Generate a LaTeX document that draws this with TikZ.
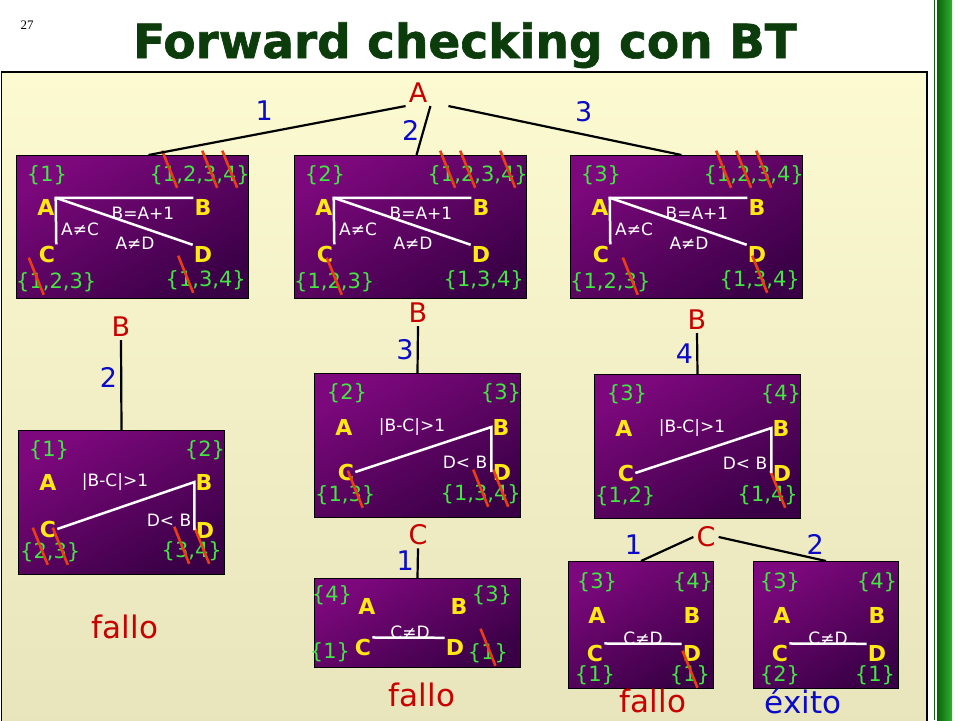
\documentclass[tikz,border=0pt]{standalone}
\usepackage{fontspec}
\usepackage{graphicx}
\setmainfont{DejaVu Sans}
\newfontfamily\numfont{Liberation Serif}
\newfontfamily\titfont{DejaVu Sans}[BoldFeatures={FakeBold=1.3}]
\definecolor{fondoA}{RGB}{252,250,208}
\definecolor{fondoB}{RGB}{232,228,188}
\definecolor{moradoA}{RGB}{125,8,125}
\definecolor{moradoB}{RGB}{58,0,70}
\definecolor{verdeDom}{RGB}{65,230,65}
\definecolor{amarillo}{RGB}{255,232,20}
\definecolor{rojoEt}{RGB}{200,0,0}
\definecolor{azulEt}{RGB}{10,10,200}
\definecolor{tacha}{RGB}{235,60,20}
\definecolor{verdeTit}{RGB}{12,60,12}
\definecolor{barraA}{RGB}{10,100,10}
\definecolor{barraB}{RGB}{50,175,50}
\newcommand\tc[1]{\ooalign{#1\cr\hidewidth\smash{\raisebox{-7pt}{\rotatebox{22}{\color{tacha}\rule{2.6pt}{40pt}}}}\hidewidth\cr}}
\begin{document}
\begin{tikzpicture}[x=1pt,y=-1pt,
  caja/.style={draw=black,line width=1pt,top color=moradoA,bottom color=moradoB,shading angle=30,inner sep=0pt,anchor=north west},
  letra/.style={text=amarillo,font=\bfseries\fontsize{22}{24}\selectfont,inner sep=1pt},
  dom/.style={text=verdeDom,font=\fontsize{21}{23}\selectfont,inner sep=0pt},
  restr/.style={text=white,font=\fontsize{17}{19}\selectfont,inner sep=0pt},
  enlace/.style={draw=white,line width=2.5pt},
  var/.style={text=rojoEt,font=\fontsize{27}{29}\selectfont,inner sep=3pt},
  val/.style={text=azulEt,font=\fontsize{27}{29}\selectfont,inner sep=3pt},
  arista/.style={line width=2.2pt},
  fin/.style={font=\fontsize{31}{33}\selectfont,inner sep=0pt}]
\useasboundingbox (0,0) rectangle (960,720);
\shade[top color=fondoA,bottom color=fondoB,draw=black,line width=1.2pt] (1.5,72) rectangle (927,730);
\draw[barraA,line width=1pt] (934,0) -- (934,720);
\shade[left color=barraA,right color=barraB] (937,0) rectangle (952,720);
\node[font=\numfont\fontsize{13}{14}\selectfont] (pag) at (27,25) {27};
\node[text=verdeTit,font=\titfont\bfseries\fontsize{47}{50}\selectfont,anchor=base] (tit) at (465,58) {Forward checking con BT};

% primer nivel
\node[caja,minimum width=232pt,minimum height=143pt] (k1) at (16,155) {};
\begin{scope}[shift={(k1.north west)}]
  \node[dom] (k1da) at (31,20) {\{1\}};
  \node[dom,anchor=east] (k1db) at (234,20) {\{\tc{1},2,\tc{3},\tc{4}\}};
  \node[letra] (k1a) at (30,52) {A};
  \node[letra] (k1b) at (187,52) {B};
  \node[letra] (k1c) at (31,99) {C};
  \node[letra] (k1d) at (187,99) {D};
  \node[dom,anchor=west] (k1dc) at (0,127) {\{\tc{1},2,3\}};
  \node[dom,anchor=east] (k1dd) at (230,125) {\{\tc{1},3,4\}};
  \draw[enlace] (k1b.north west) -- (k1a.north east) -- (k1c.north east);
  \draw[enlace] (k1a.north east) -- (k1d.north west);
  \node[restr] (k1r1) at (127,58) {B=A+1};
  \node[restr] (k1r2) at (64,74) {A≠C};
  \node[restr] (k1r3) at (119,88) {A≠D};
\end{scope}
\node[caja,minimum width=232pt,minimum height=143pt] (k2) at (294,155) {};
\begin{scope}[shift={(k2.north west)}]
  \node[dom] (k2da) at (31,20) {\{2\}};
  \node[dom,anchor=east] (k2db) at (234,20) {\{\tc{1},\tc{2},3,\tc{4}\}};
  \node[letra] (k2a) at (30,52) {A};
  \node[letra] (k2b) at (187,52) {B};
  \node[letra] (k2c) at (31,99) {C};
  \node[letra] (k2d) at (187,99) {D};
  \node[dom,anchor=west] (k2dc) at (0,127) {\{1,\tc{2},3\}};
  \node[dom,anchor=east] (k2dd) at (230,125) {\{1,3,4\}};
  \draw[enlace] (k2b.north west) -- (k2a.north east) -- (k2c.north east);
  \draw[enlace] (k2a.north east) -- (k2d.north west);
  \node[restr] (k2r1) at (127,58) {B=A+1};
  \node[restr] (k2r2) at (64,74) {A≠C};
  \node[restr] (k2r3) at (119,88) {A≠D};
\end{scope}
\node[caja,minimum width=232pt,minimum height=143pt] (k3) at (570,155) {};
\begin{scope}[shift={(k3.north west)}]
  \node[dom] (k3da) at (31,20) {\{3\}};
  \node[dom,anchor=east] (k3db) at (234,20) {\{\tc{1},\tc{2},\tc{3},4\}};
  \node[letra] (k3a) at (30,52) {A};
  \node[letra] (k3b) at (187,52) {B};
  \node[letra] (k3c) at (31,99) {C};
  \node[letra] (k3d) at (187,99) {D};
  \node[dom,anchor=west] (k3dc) at (0,127) {\{1,2,\tc{3}\}};
  \node[dom,anchor=east] (k3dd) at (230,125) {\{1,\tc{3},4\}};
  \draw[enlace] (k3b.north west) -- (k3a.north east) -- (k3c.north east);
  \draw[enlace] (k3a.north east) -- (k3d.north west);
  \node[restr] (k3r1) at (127,58) {B=A+1};
  \node[restr] (k3r2) at (64,74) {A≠C};
  \node[restr] (k3r3) at (119,88) {A≠D};
\end{scope}

% segundo nivel
\node[caja,minimum width=206pt,minimum height=144pt] (k4) at (18,430) {};
\begin{scope}[shift={(k4.north west)}]
  \node[dom] (k4da) at (31,20) {\{1\}};
  \node[dom] (k4db) at (187,20) {\{2\}};
  \node[letra] (k4a) at (30,52) {A};
  \node[letra] (k4b) at (186,52) {B};
  \node[letra] (k4c) at (30,99) {C};
  \node[letra] (k4d) at (187,100) {D};
  \node[dom,anchor=west] (k4dc) at (2,122) {\{\tc{2},\tc{3}\}};
  \node[dom,anchor=east] (k4dd) at (204,121) {\{\tc{3},\tc{4}\}};
  \draw[enlace] (k4c.east) -- (k4b.west) -- (k4b.west |- k4d.center);
  \node[restr] (k4r1) at (97,52) {|B-C|>1};
  \node[restr] (k4r2) at (151,90) {D< B};
\end{scope}
\node[caja,minimum width=206pt,minimum height=144pt] (k5) at (314,373) {};
\begin{scope}[shift={(k5.north west)}]
  \node[dom] (k5da) at (33,20) {\{2\}};
  \node[dom] (k5db) at (187,20) {\{3\}};
  \node[letra] (k5a) at (30,54) {A};
  \node[letra] (k5b) at (187,54) {B};
  \node[letra] (k5c) at (32,99) {C};
  \node[letra] (k5d) at (188,99) {D};
  \node[dom,anchor=west] (k5dc) at (1,122) {\{1,\tc{3}\}};
  \node[dom,anchor=east] (k5dd) at (207,121) {\{1,\tc{3},\tc{4}\}};
  \draw[enlace] (k5c.east) -- (k5b.west) -- (k5b.west |- k5d.center);
  \node[restr] (k5r1) at (98,54) {|B-C|>1};
  \node[restr] (k5r2) at (151,89) {D< B};
\end{scope}
\node[caja,minimum width=206pt,minimum height=144pt] (k6) at (594,374) {};
\begin{scope}[shift={(k6.north west)}]
  \node[dom] (k6da) at (33,20) {\{3\}};
  \node[dom] (k6db) at (187,20) {\{4\}};
  \node[letra] (k6a) at (30,54) {A};
  \node[letra] (k6b) at (187,54) {B};
  \node[letra] (k6c) at (32,99) {C};
  \node[letra] (k6d) at (188,99) {D};
  \node[dom,anchor=west] (k6dc) at (1,122) {\{1,2\}};
  \node[dom,anchor=east] (k6dd) at (204,121) {\{1,\tc{4}\}};
  \draw[enlace] (k6c.east) -- (k6b.west) -- (k6b.west |- k6d.center);
  \node[restr] (k6r1) at (98,54) {|B-C|>1};
  \node[restr] (k6r2) at (151,89) {D< B};
\end{scope}

% tercer nivel
\node[caja,minimum width=206pt,minimum height=89pt] (k7) at (314,578) {};
\begin{scope}[shift={(k7.north west)}]
  \node[dom] (k7da) at (18,17) {\{4\}};
  \node[dom] (k7db) at (178,17) {\{3\}};
  \node[letra] (k7a) at (53,28) {A};
  \node[letra] (k7b) at (145,28) {B};
  \node[letra] (k7c) at (49,69) {C};
  \node[letra] (k7d) at (141,69) {D};
  \node[dom] (k7dc) at (16,74) {\{1\}};
  \node[dom] (k7dd) at (174,75) {\{\tc{1}\}};
  \draw[enlace] (k7c.north east) -- (k7d.north west);
  \node[restr] (k7r1) at (96,54) {C≠D};
\end{scope}
\node[caja,minimum width=145pt,minimum height=127pt] (k8) at (568,561) {};
\begin{scope}[shift={(k8.north west)}]
  \node[dom] (k8da) at (29,21) {\{3\}};
  \node[dom] (k8db) at (125,21) {\{4\}};
  \node[letra] (k8a) at (29,54) {A};
  \node[letra] (k8b) at (124,54) {B};
  \node[letra] (k8c) at (27,92) {C};
  \node[letra] (k8d) at (124,92) {D};
  \node[dom] (k8dc) at (27,114) {\{1\}};
  \node[dom] (k8dd) at (122,114) {\{\tc{1}\}};
  \draw[enlace] (k8c.north east) -- (k8d.north west);
  \node[restr] (k8r1) at (75,77) {C≠D};
\end{scope}
\node[caja,minimum width=145pt,minimum height=127pt] (k9) at (753,561) {};
\begin{scope}[shift={(k9.north west)}]
  \node[dom] (k9da) at (27,21) {\{3\}};
  \node[dom] (k9db) at (124,21) {\{4\}};
  \node[letra] (k9a) at (29,54) {A};
  \node[letra] (k9b) at (124,54) {B};
  \node[letra] (k9c) at (27,92) {C};
  \node[letra] (k9d) at (124,92) {D};
  \node[dom] (k9dc) at (27,114) {\{2\}};
  \node[dom] (k9dd) at (122,114) {\{1\}};
  \draw[enlace] (k9c.north east) -- (k9d.north west);
  \node[restr] (k9r1) at (75,77) {C≠D};
\end{scope}

% arbol
\node[var] (A0) at (418,93) {A};
\node[var] (B1) at (121,327) {B};
\node[var] (B2) at (418,313) {B};
\node[var] (B3) at (697,320) {B};
\node[var] (C1) at (418,535) {C};
\node[var] (C2) at (706,537) {C};
\draw[arista] (A0.south west) -- ([xshift=16pt]k1.north) node[val,pos=.55,above=8pt] (v1) {1};
\draw[arista] (A0.south east) -- ([xshift=6pt]k2.north) node[val,midway,left=0pt] (v2) {2};
\draw[arista] ([xshift=18pt]A0.south east) -- ([xshift=-5pt]k3.north) node[val,pos=.58,above=8pt] (v3) {3};
\draw[arista] (B1.south) -- (k4.north) node[val,pos=.42,left=0pt] (v4) {2};
\draw[arista] (B2.south) -- (k5.north) node[val,midway,left=0pt] (v5) {3};
\draw[arista] (B3.south) -- (k6.north) node[val,midway,left=0pt] (v6) {4};
\draw[arista] (C1.south) -- (k7.north) node[val,pos=.4,left=0pt] (v7) {1};
\draw[arista] (C2.west) -- (k8.north) node[val,pos=.9,above left=0pt] (v8) {1};
\draw[arista] (C2.east) -- (k9.north) node[val,pos=.9,above=0pt] (v9) {2};

\node[fin,text=rojoEt] (f1) at (125,627) {fallo};
\node[fin,text=rojoEt] (f2) at (422,695) {fallo};
\node[fin,text=rojoEt] (f3) at (653,701) {fallo};
\node[fin,text=azulEt] (f4) at (803,701) {éxito};
\end{tikzpicture}
\end{document}
